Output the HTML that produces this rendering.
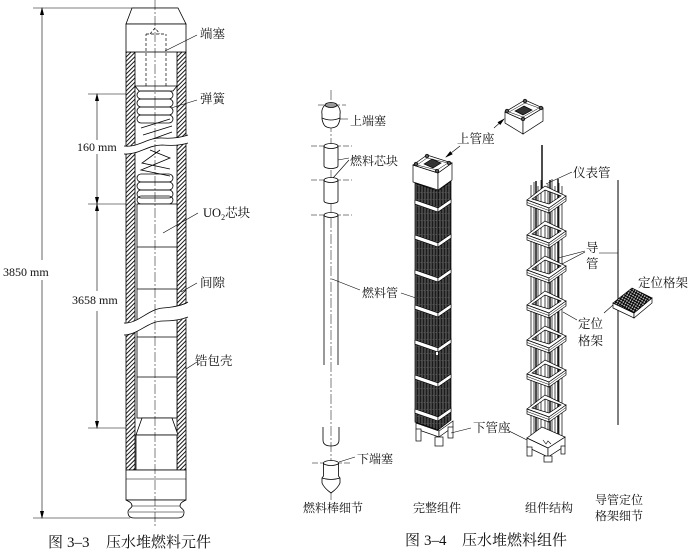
<!DOCTYPE html>
<html>
<head>
<meta charset="utf-8">
<style>
html,body{margin:0;padding:0;background:#fff;}
svg{display:block;}
text{font-family:"Liberation Serif","Noto Serif CJK SC",serif;fill:#111;}
</style>
</head>
<body>
<svg width="692" height="558" viewBox="0 0 692 558" xmlns="http://www.w3.org/2000/svg">
<defs>
  <pattern id="h" width="3" height="3" patternUnits="userSpaceOnUse" patternTransform="rotate(45)">
    <rect width="3" height="3" fill="#fff"/>
    <line x1="0.5" y1="0" x2="0.5" y2="3" stroke="#000" stroke-width="0.9"/>
  </pattern>
  <pattern id="dk" width="3" height="7" patternUnits="userSpaceOnUse">
    <rect width="3" height="7" fill="#1c1c1c"/>
    <line x1="2" y1="0" x2="2" y2="7" stroke="#8c8c8c" stroke-width="0.7"/>
    <rect x="0.5" y="3" width="0.8" height="0.8" fill="#666"/>
  </pattern>
  <pattern id="xh" width="2.6" height="2.6" patternUnits="userSpaceOnUse" patternTransform="rotate(30)">
    <rect width="2.6" height="2.6" fill="#bbb"/>
    <line x1="0" y1="0.5" x2="2.6" y2="0.5" stroke="#000" stroke-width="1"/>
    <line x1="0.5" y1="0" x2="0.5" y2="2.6" stroke="#000" stroke-width="1"/>
  </pattern>
  <marker id="ar" markerUnits="userSpaceOnUse" markerWidth="8" markerHeight="6" refX="7" refY="3" orient="auto-start-reverse">
    <path d="M0,1 L8,3 L0,5 Z" fill="#000"/>
  </marker>
  <g id="grid" stroke="#000" stroke-width="0.7" fill="#fff">
    <path fill-rule="evenodd" d="M527,2 L545,-12 L566,-2 L549,10 Z M532,1 L545,-8 L561,-2 L549,6 Z"/>
    <path d="M527,2 L549,10 L549,15 L527,7 Z"/>
    <path d="M549,10 L566,-2 L566,3 L549,15 Z"/>
    <path d="M527,4.5 L549,12.5 L566,0.5" fill="none" stroke-width="0.5"/>
  </g>
</defs>

<!-- ================= LEFT : fuel rod ================= -->
<g stroke="#000" fill="none" stroke-width="0.8">
  <!-- dimension 3850 -->
  <line x1="33" y1="8" x2="178" y2="8" stroke-width="0.6"/>
  <line x1="33" y1="518" x2="130" y2="518" stroke-width="0.6"/>
  <line x1="42" y1="260" x2="42" y2="8" stroke-width="0.6" marker-end="url(#ar)"/>
  <line x1="42" y1="280" x2="42" y2="518" stroke-width="0.6" marker-end="url(#ar)"/>
  <!-- dimension 160 -->
  <line x1="88" y1="94" x2="126" y2="94" stroke-width="0.6"/>
  <line x1="88" y1="204" x2="136" y2="204" stroke-width="0.6"/>
  <line x1="88" y1="428" x2="126" y2="428" stroke-width="0.6"/>
  <line x1="97" y1="140" x2="97" y2="94" stroke-width="0.6" marker-end="url(#ar)"/>
  <line x1="97" y1="154" x2="97" y2="204" stroke-width="0.6" marker-end="url(#ar)"/>
  <!-- dimension 3658 -->
  <line x1="97" y1="291" x2="97" y2="204" stroke-width="0.6" marker-end="url(#ar)"/>
  <line x1="97" y1="311" x2="97" y2="428" stroke-width="0.6" marker-end="url(#ar)"/>

  <!-- walls -->
  <rect x="126" y="52" width="9" height="418" fill="url(#h)"/>
  <rect x="177" y="52" width="9" height="418" fill="url(#h)"/>
  <!-- top cap -->
  <polygon points="132,8 178,8 186,24 126,24" fill="#fff"/>
  <rect x="126" y="24" width="60" height="28" fill="#fff"/>
  <path d="M135,86 L177,86 L173,91 L139,91 Z" fill="#fff"/>
  <path d="M146,86 V34 M166,86 V34 M146,34 H166 M150,34 L155,28 L160,34" stroke-dasharray="3,2" stroke-width="0.7"/>
  <!-- spring upper -->
  <rect x="137" y="91" width="36" height="8" rx="4"/>
  <rect x="137" y="99" width="36" height="8" rx="4"/>
  <rect x="137" y="107" width="36" height="8" rx="4"/>
  <rect x="137" y="115" width="36" height="8" rx="4"/>
  <path d="M141,128 L170,119 M143,135 L172,126 M150,140 L172,132"/>
  <!-- spring lower -->
  <path d="M150,150 L170,158 L141,170 L170,176 M160,150 L142,163 L170,169"/>
  <rect x="137" y="174" width="36" height="8" rx="4"/>
  <rect x="137" y="182" width="36" height="8" rx="4"/>
  <rect x="137" y="190" width="36" height="8" rx="4"/>
  <rect x="137" y="196" width="36" height="8" rx="4"/>
  <!-- pellets -->
  <rect x="137" y="204" width="40" height="214" fill="#fff"/>
  <path d="M137,247 H177 M137,289 H177 M137,337 H177 M137,377 H177"/>
  <!-- lower plug -->
  <polygon points="142,418 172,418 178,435 136,435" fill="#fff"/>
  <rect x="136" y="435" width="41" height="35" fill="#fff"/>
  <rect x="126" y="470" width="60" height="30" fill="#fff"/>
  <line x1="126" y1="479" x2="186" y2="479" stroke-width="0.5"/>
  <path d="M126,500 C130,502 132,503 132,506 C132,508 128,509 128,512 C128,516 130,518 134,518 L178,518 C182,518 184,516 184,512 C184,509 180,508 180,506 C180,503 182,502 186,500 Z" fill="#fff"/>
  <path d="M132,506 H180 M129,512 H183" stroke-width="0.5"/>

  <!-- break 1 -->
  <path d="M121,146 C138,148 148,137 162,138 C174,139 182,137 191,135 L191,143 C182,145 174,146 162,145 C148,145 138,155 121,154 Z" fill="#fff" stroke="none"/>
  <path d="M124,146 C138,148 148,137 162,138 C174,139 182,137 188,135"/>
  <path d="M124,154 C138,155 148,145 162,145 C174,146 182,145 188,143"/>
  <!-- break 2 -->
  <path d="M121,323 C138,324 148,309 163,308 C176,307 183,305 191,302 L191,317 C183,319 176,321 163,321 C148,321 138,335 121,335 Z" fill="#fff" stroke="none"/>
  <path d="M124,323 C138,324 148,309 163,308 C176,307 183,305 188,302"/>
  <path d="M124,335 C138,335 148,321 163,321 C176,321 183,319 188,317"/>

  <!-- centerline -->
  <line x1="155" y1="0" x2="155" y2="526" stroke-width="0.5" stroke-dasharray="10,2,2,2"/>

  <!-- leaders -->
  <path d="M197,35 L165,51 M197,100 L171,108 M198,213 L163,233 M197,283 L181,292 M197,362 L186,369" stroke-width="0.6"/>
</g>
<text x="200" y="38" font-size="12.5">端塞</text>
<text x="200" y="103" font-size="12.5">弹簧</text>
<text x="203" y="217" font-size="12.5">UO<tspan font-size="8" dy="3">2</tspan><tspan dy="-3">芯块</tspan></text>
<text x="200" y="287" font-size="12.5">间隙</text>
<text x="195" y="365" font-size="12.5">锆包壳</text>
<text x="3" y="276" font-size="12">3850 mm</text>
<text x="77" y="151" font-size="12">160 mm</text>
<text x="72" y="304" font-size="12">3658 mm</text>
<text x="48" y="547" font-size="15">图</text>
<text x="67" y="547" font-size="15">3–3</text>
<text x="106" y="547" font-size="15">压水堆燃料元件</text>

<!-- ================= MIDDLE : fuel rod detail ================= -->
<g stroke="#000" fill="none" stroke-width="0.8">
  <line x1="331" y1="90" x2="331" y2="502" stroke-width="0.5" stroke-dasharray="10,2,2,2"/>
  <path d="M318,105 H346 M311,146 H352 M311,180 H352 M311,215 H352 M312,463 H352" stroke-width="0.5" stroke-dasharray="6,2"/>
  <!-- upper plug -->
  <path d="M325,105 Q321,109 322,114 L322,119 Q323,124 325,126 Q331,130 337,126 Q339,124 340,119 L340,114 Q341,109 337,105 Z" fill="#fff"/>
  <ellipse cx="331" cy="105" rx="6" ry="2.5" fill="#999"/>
  <path d="M322,118 Q331,122 340,118"/>
  <!-- pellets -->
  <path d="M324,146 V166 A7,2.5 0 0 0 338,166 V146" fill="#fff"/>
  <ellipse cx="331" cy="146" rx="7" ry="2.5" fill="#fff"/>
  <path d="M324,180 V201 A7,2.5 0 0 0 338,201 V180" fill="#fff"/>
  <ellipse cx="331" cy="180" rx="7" ry="2.5" fill="#fff"/>
  <!-- tube -->
  <path d="M324,215 V365 M338,215 V365"/>
  <ellipse cx="331" cy="215" rx="7" ry="2.5" fill="#fff"/>
  <path d="M323,427 V440 Q323,446 331,446 Q339,446 339,440 V427"/>
  <!-- lower plug -->
  <path d="M323.5,463 V476 L322,478 V483 Q324,488 331,493 Q338,488 340,483 V478 L338.5,476 V463" fill="#fff"/>
  <ellipse cx="331" cy="463" rx="7.5" ry="2.5" fill="#fff"/>
  <path d="M322,478 Q331,481 340,478"/>
  <!-- leaders -->
  <path d="M340,119 H348 M349,158 L338,160 M349,160 L333,178 M332,279 L360,290 M401,293 L416,298 M339,462 L355,457" stroke-width="0.6"/>
</g>
<text x="350" y="125" font-size="12">上端塞</text>
<text x="350" y="165" font-size="12">燃料芯块</text>
<text x="362" y="297" font-size="12">燃料管</text>
<text x="357" y="463" font-size="12">下端塞</text>
<text x="303" y="512" font-size="12">燃料棒细节</text>

<!-- ================= assembly ================= -->
<g stroke="#000" stroke-width="0.7">
  <polygon points="415,183 438,191 438,430 415,422" fill="url(#dk)"/>
  <polygon points="438,191 451,181 451,420 438,430" fill="url(#dk)"/>
  <g fill="#fff" stroke-width="0.6">
    <polygon points="415,200 438,208 438,212 415,204"/><polygon points="438,208 451,199 451,203 438,212"/>
    <polygon points="415,235 438,243 438,247 415,239"/><polygon points="438,243 451,234 451,238 438,247"/>
    <polygon points="415,270 438,278 438,282 415,274"/><polygon points="438,278 451,269 451,273 438,282"/>
    <polygon points="415,305 438,313 438,317 415,309"/><polygon points="438,313 451,304 451,308 438,317"/>
    <polygon points="415,340 438,348 438,352 415,344"/><polygon points="438,348 451,339 451,343 438,352"/>
    <polygon points="415,375 438,383 438,387 415,379"/><polygon points="438,383 451,374 451,378 438,387"/>
    <polygon points="415,409 438,417 438,421 415,413"/><polygon points="438,417 451,408 451,412 438,421"/>
  </g>
  <rect x="436" y="352" width="2" height="3" fill="#fff" stroke="none"/>
  <!-- head -->
  <polygon points="413,165 438,173 438,190 413,182" fill="#fff"/>
  <polygon points="438,173 452,163 452,180 438,190" fill="#fff"/>
  <polygon points="413,165 427,155 452,163 438,173" fill="#fff"/>
  <polygon points="417,165 427,158 448,163 437,170" fill="none" stroke-width="0.5"/>
  <path d="M424,164 L432,159 L441,163 L433,168 Z" fill="#333"/>
  <circle cx="416" cy="164" r="1.8" fill="#555"/><circle cx="427" cy="156" r="1.8" fill="#555"/>
  <circle cx="449" cy="163" r="1.8" fill="#555"/><circle cx="437" cy="171" r="1.8" fill="#555"/>
  <!-- bottom nozzle -->
  <polygon points="416,423 439,431 439,437 416,429" fill="#fff"/>
  <polygon points="439,431 453,421 453,427 439,437" fill="#fff"/>
  <rect x="416" y="429" width="5" height="12" fill="#fff"/>
  <rect x="435" y="437" width="8" height="9" fill="#fff"/>
  <rect x="448" y="427" width="5" height="11" fill="#fff"/>
  <!-- detached top nozzle -->
  <polygon points="505,112 523,120 523,134 505,123" fill="#fff"/>
  <polygon points="523,120 543,108 543,121 523,134" fill="#fff"/>
  <polygon points="505,112 525,100 543,108 523,120" fill="#fff"/>
  <polygon points="509,112 525,103 539,108 523,117" fill="none" stroke-width="0.5"/>
  <path d="M515,111 L524,106 L532,110 L523,115 Z" fill="#333"/>
  <circle cx="507" cy="111" r="1.8" fill="#555"/><circle cx="525" cy="101" r="1.8" fill="#555"/>
  <circle cx="541" cy="108" r="1.8" fill="#555"/><circle cx="523" cy="119" r="1.8" fill="#555"/>
</g>
<g stroke="#000" stroke-width="0.6" fill="none">
  <line x1="494" y1="128" x2="504" y2="119" marker-end="url(#ar)"/>
  <line x1="460" y1="146" x2="446" y2="157" marker-end="url(#ar)"/>
  <path d="M471,428 L451,433 M507,430 L527,440"/>
</g>
<text x="457" y="143" font-size="12.5">上管座</text>
<text x="473" y="432" font-size="12.5">下管座</text>
<text x="413" y="512" font-size="12">完整组件</text>

<!-- ================= structure ================= -->
<g stroke="#000" stroke-width="0.7" fill="none">
  <path d="M531,185 V438 M534,182 V438 M538,186 V438 M541,180 V438 M545,186 V438 M548,184 V438 M552,179 V438 M555,186 V438 M559,183 V438 M562,186 V438"/>
  <path d="M536,181 V438 M550,180 V438 M558,179 V438" stroke-width="1.4"/>
  <line x1="542" y1="145" x2="542" y2="190" stroke-width="1.4"/>
</g>
<use href="#grid" y="198"/>
<use href="#grid" y="233"/>
<use href="#grid" y="268"/>
<use href="#grid" y="303"/>
<use href="#grid" y="338"/>
<use href="#grid" y="372"/>
<use href="#grid" y="407"/>
<g stroke="#000" stroke-width="0.7" fill="#fff">
  <polygon points="527,438 548,448 548,457 527,447"/>
  <polygon points="548,448 565,437 565,446 548,457"/>
  <polygon points="527,438 542,427 565,437 548,448"/>
  <rect x="527" y="447" width="5" height="9"/>
  <rect x="544" y="456" width="8" height="6"/>
  <rect x="561" y="446" width="4" height="8"/>
  <path d="M543,440 L546,444 L548,441 L551,444" fill="none" stroke-width="0.6"/>
</g>
<g stroke="#000" stroke-width="0.6" fill="none">
  <path d="M572,172 L546,184"/>
  <path d="M585,251 L558,258 M585,252 L562,264 M599,253 H618"/>
  <path d="M577,320 L563,312 M604,313 L613,305"/>
  <line x1="618" y1="180" x2="618" y2="425" stroke-width="1"/>
</g>
<!-- grid detail -->
<g stroke="#000" stroke-width="0.7">
  <polygon points="613,303 634,313 634,318 613,308" fill="#fff"/>
  <polygon points="634,313 652,298 652,303 634,318" fill="#fff"/>
  <polygon points="613,303 632,288 652,298 634,313" fill="url(#xh)"/>
</g>
<text x="573" y="177" font-size="12.5">仪表管</text>
<text x="586" y="252" font-size="12.5">导</text>
<text x="586" y="268" font-size="12.5">管</text>
<text x="578" y="328" font-size="12.5">定位</text>
<text x="578" y="345" font-size="12.5">格架</text>
<text x="638" y="287" font-size="12.5">定位格架</text>
<text x="525" y="512" font-size="12">组件结构</text>
<text x="595" y="504" font-size="12">导管定位</text>
<text x="595" y="520" font-size="12">格架细节</text>

<text x="405" y="545" font-size="15">图</text>
<text x="424" y="545" font-size="15">3–4</text>
<text x="462" y="545" font-size="15">压水堆燃料组件</text>
</svg>
</body>
</html>
